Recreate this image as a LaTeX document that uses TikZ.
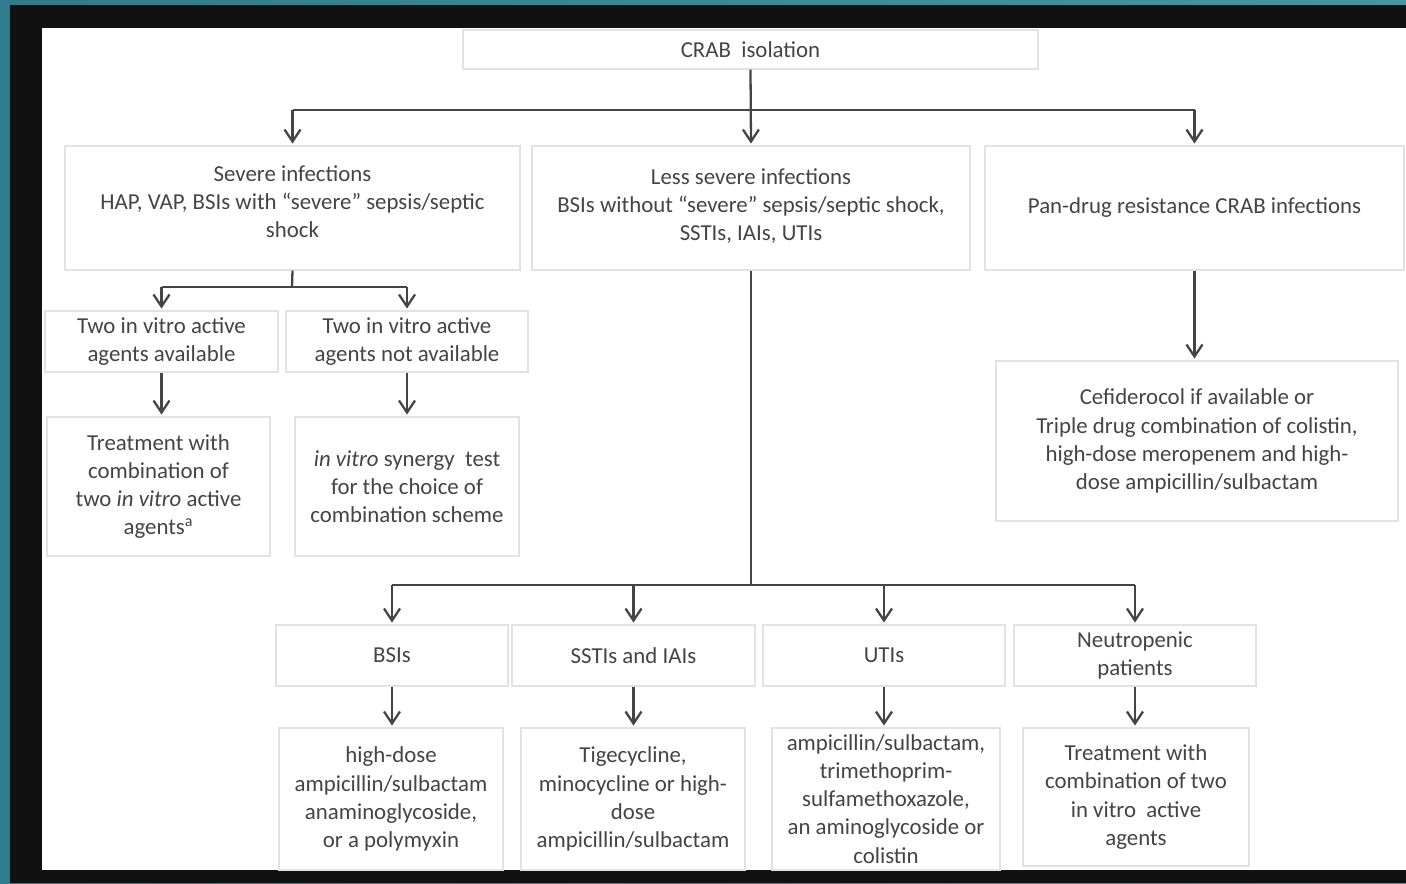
\documentclass[tikz,border=0pt]{standalone}
\usepackage{fontspec}
\setmainfont{Carlito}
\usetikzlibrary{arrows.meta}
\definecolor{edge}{HTML}{E2E2E2}
\definecolor{ink}{HTML}{444444}
\definecolor{tealbg}{HTML}{4596A5}
\definecolor{tealdark}{HTML}{2E7C8E}
\definecolor{frame}{HTML}{111111}
\tikzset{
  box/.style={draw=edge, line width=0.8pt, align=center, inner sep=0pt, text=ink,
    font=\fontsize{13}{16}\selectfont},
  lin/.style={draw=ink, line width=1.3pt},
  arr/.style={lin, shorten >=1pt, -{Straight Barb[length=2.4mm,width=3.2mm]}},
}
\begin{document}
\begin{tikzpicture}[x=0.02cm,y=-0.02cm]
\useasboundingbox (0,0) rectangle (1406,883);
\shade[left color=tealdark, right color=tealbg] (0,0) rectangle (1406,883);
\fill[frame] (10,5) rectangle (1406,883);
\fill[white] (42,28) rectangle (1406,870);

\node[box, minimum width=11.5cm, minimum height=0.78cm] (crab) at (750.5,49.5) {CRAB\ \ isolation};

\node[box, minimum width=9.1cm, minimum height=2.48cm, text depth=0.25cm] (severe) at (292.5,208)
  {Severe infections\\HAP, VAP, BSIs with “severe” sepsis/septic\\shock};
\node[box, minimum width=8.76cm, minimum height=2.48cm, text depth=0.15cm] (less) at (751,208)
  {Less severe infections\\BSIs without “severe” sepsis/septic shock,\\SSTIs, IAIs, UTIs};
\node[box, minimum width=8.38cm, minimum height=2.48cm] (pan) at (1194.5,208)
  {Pan-drug resistance CRAB infections};

\node[box, minimum width=4.66cm, minimum height=1.22cm] (avail) at (161.5,341.5)
  {Two in vitro active\\agents available};
\node[box, minimum width=4.84cm, minimum height=1.22cm] (notavail) at (407,341.5)
  {Two in vitro active\\agents not available};
\node[box, minimum width=4.46cm, minimum height=2.78cm] (treat) at (158.5,486.5)
  {Treatment with\\combination of\\two \textit{in vitro} active\\agents\textsuperscript{a}};
\node[box, minimum width=4.48cm, minimum height=2.78cm] (synergy) at (407,486.5)
  {\textit{in vitro} synergy\ \ test\\for the choice of\\combination scheme};
\node[box, minimum width=8.04cm, minimum height=3.2cm] (cefid) at (1197,441)
  {Cefiderocol if available or\\Triple drug combination of colistin,\\high-dose meropenem and high-\\dose ampicillin/sulbactam};

\node[box, minimum width=4.64cm, minimum height=1.22cm] (bsi) at (392,655.5) {BSIs};
\node[box, minimum width=4.86cm, minimum height=1.22cm] (ssti) at (633.5,655.5) {SSTIs and IAIs};
\node[box, minimum width=4.84cm, minimum height=1.22cm] (uti) at (884,655.5) {UTIs};
\node[box, minimum width=4.84cm, minimum height=1.22cm] (neutro) at (1135,655.5)
  {Neutropenic\\patients};

\node[box, minimum width=4.48cm, minimum height=2.84cm] (bsidrug) at (391,799)
  {high-dose\\ampicillin/sulbactam\\anaminoglycoside,\\or a polymyxin};
\node[box, minimum width=4.48cm, minimum height=2.84cm] (sstidrug) at (633,799)
  {Tigecycline,\\minocycline or high-\\dose\\ampicillin/sulbactam};
\node[box, minimum width=4.56cm, minimum height=2.84cm] (utidrug) at (886,799)
  {ampicillin/sulbactam,\\trimethoprim-\\sulfamethoxazole,\\an aminoglycoside or\\colistin};
\node[box, minimum width=4.52cm, minimum height=2.76cm] (neutdrug) at (1136,797)
  {Treatment with\\combination of two\\in vitro\ \ active\\agents};

\coordinate (topfork) at (752,110);
\coordinate (sevfork) at (292,287);
\coordinate (lessfork) at (751,585);

\draw[arr] (crab.south) -- (less.north);
\draw[lin] (topfork -| severe.north) -- (topfork -| pan.north);
\draw[arr] (topfork -| severe.north) -- (severe.north);
\draw[arr] (topfork -| pan.north) -- (pan.north);

\draw[lin] (severe.south) -- (sevfork);
\draw[lin] (sevfork -| avail.north) -- (sevfork -| notavail.north);
\draw[arr] (sevfork -| avail.north) -- (avail.north);
\draw[arr] (sevfork -| notavail.north) -- (notavail.north);
\draw[arr] (avail.south) -- (avail.south |- treat.north);
\draw[arr] (notavail.south) -- (synergy.north);

\draw[arr] (pan.south) -- (pan.south |- cefid.north);

\draw[lin] (less.south) -- (lessfork);
\draw[lin] (lessfork -| bsi.north) -- (lessfork -| neutro.north);
\foreach \n in {bsi,ssti,uti,neutro}
  \draw[arr] (lessfork -| \n.north) -- (\n.north);
\draw[arr] (bsi.south) -- (bsi.south |- bsidrug.north);
\draw[arr] (ssti.south) -- (ssti.south |- sstidrug.north);
\draw[arr] (uti.south) -- (uti.south |- utidrug.north);
\draw[arr] (neutro.south) -- (neutro.south |- neutdrug.north);
\end{tikzpicture}
\end{document}
